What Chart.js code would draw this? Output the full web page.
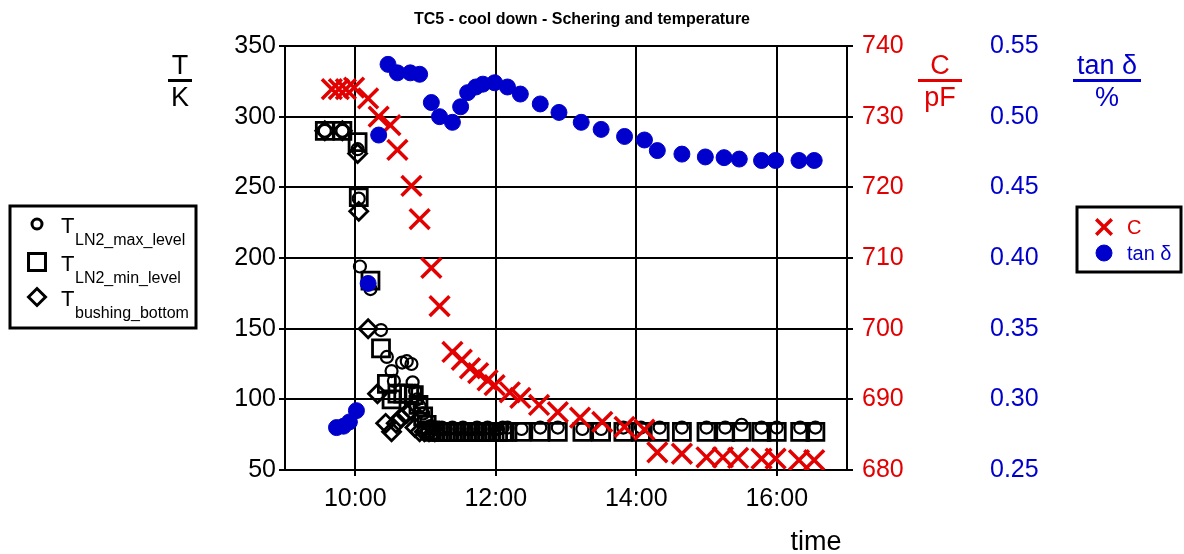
<!DOCTYPE html>
<html>
<head>
<meta charset="utf-8">
<script src="https://cdn.jsdelivr.net/npm/chart.js@4/dist/chart.umd.min.js"></script>
<style>
  body { margin: 0; background: #fff; }
  #wrap { width: 1184px; height: 554px; }
</style>
</head>
<body>
<div id="wrap"><canvas id="chart" width="1184" height="554"></canvas></div>
<script>
// temperatures (K)
const maxTimes = ['9:34','9:49','10:02','10:03','10:04','10:13','10:22','10:27','10:31','10:33','10:40','10:44','10:48','10:49','10:51','10:53','10:55','10:58','11:01','11:04',
  '11:08','11:11','11:14','11:17','11:20','11:23','11:26','11:29','11:32','11:35','11:38','11:41','11:44','11:47','11:50','11:53','11:56','11:59','12:02','12:06',
  '12:10','12:22','12:38','12:53','13:14','13:30','13:49','14:04','14:20','14:39','15:00','15:16','15:30','15:47','16:00','16:20','16:33'];
const maxValues = [290,290,277,242,194,178,149,130,120,113,126,127,125,112,106,100,95,90,85,81,
  80,79,80,79,79,80,79,79,80,79,79,79,80,79,79,80,79,79,79,80,
  80,79,80,80,79,79,80,80,80,80,80,80,82,80,80,80,80];

const minTimes = ['9:34','9:49','10:02','10:03','10:13','10:22','10:27','10:31','10:36','10:41','10:46','10:50','10:54','10:58','11:01','11:04',
  '11:08','11:11','11:14','11:17','11:20','11:23','11:26','11:29','11:32','11:35','11:38','11:41','11:44','11:47','11:50','11:53','11:56','11:59','12:02','12:06',
  '12:10','12:22','12:38','12:53','13:14','13:30','13:49','14:04','14:20','14:39','15:00','15:16','15:30','15:47','16:00','16:20','16:33'];
const minValues = [290,290,282,243,184,136,111,100,104,104,104,103,96,88,82,78,
  77,77,77,77,77,77,77,77,77,77,77,77,77,77,77,77,77,77,77,77,
  77,77,77,77,77,77,77,77,77,77,77,77,77,77,77,77,77];

const bushTimes = ['9:34','9:49','10:02','10:03','10:11','10:19','10:26','10:31','10:35','10:39','10:44','10:48','10:51','10:55','10:59','11:03','11:08'];
const bushValues = [290,290,274,233,150,104,83,77,83,87,90,92,80,77,77,77,77];

// Schering bridge: capacitance (pF) and tan delta (%)
const cTimes = ['9:40','9:46','9:52','9:59','10:11','10:20','10:30','10:36','10:48','10:55','11:05','11:12','11:23','11:31','11:38','11:45','11:53','11:59',
  '12:12','12:21','12:37','12:53','13:12','13:31','13:50','14:07','14:18','14:39','15:00','15:14','15:27','15:47','15:59','16:19','16:32'];
const cValues = [733.9,733.9,733.9,734.1,732.6,730.0,728.8,725.3,720.2,715.5,708.6,703.2,696.7,695.6,694.4,693.7,692.7,692.0,
  691.0,690.2,689.2,688.2,687.4,686.8,686.1,685.7,682.5,682.3,681.8,681.8,681.7,681.6,681.6,681.4,681.4];

const tanTimes = ['9:44','9:50','9:55','10:01','10:11','10:20','10:28','10:36','10:47','10:55','11:05','11:12','11:23','11:30','11:36','11:43','11:49','11:59',
  '12:10','12:21','12:38','12:54','13:13','13:30','13:50','14:07','14:18','14:39','14:59','15:15','15:28','15:47','15:59','16:19','16:32'];
const tanValues = [0.280,0.281,0.284,0.292,0.382,0.487,0.537,0.531,0.531,0.530,0.510,0.500,0.496,0.507,0.517,0.521,0.523,0.524,
  0.521,0.516,0.509,0.503,0.496,0.491,0.486,0.4835,0.476,0.4735,0.4715,0.471,0.470,0.469,0.469,0.469,0.469];

const xTicks = [600, 720, 840, 960];

const RED = 'rgb(226,0,0)';
const BLUE = 'rgb(0,0,205)';
const FONT = "'Liberation Sans', Arial, sans-serif";

function toMin(s) {
  const p = s.split(':');
  return +p[0] * 60 + +p[1];
}
function pts(times, vals) {
  return times.map((t, i) => ({ x: toMin(t), y: vals[i] }));
}
function hhmm(v) {
  const h = Math.floor(v / 60), m = v % 60;
  return h + ':' + String(m).padStart(2, '0');
}

function textAt(ctx, s, x, y, font, color, align) {
  ctx.font = font;
  ctx.fillStyle = color;
  ctx.textAlign = align || 'left';
  ctx.textBaseline = 'alphabetic';
  ctx.fillText(s, x, y);
}

function fraction(ctx, top, bottom, cx, color, lineW) {
  textAt(ctx, top, cx, 74, '27px ' + FONT, color, 'center');
  ctx.fillStyle = color;
  ctx.fillRect(cx - lineW / 2, 79, lineW, 3);
  textAt(ctx, bottom, cx, 106, '27px ' + FONT, color, 'center');
}

const decor = {
  id: 'decor',
  afterDraw(chart) {
    const ctx = chart.ctx;
    const dp = Chart.helpers.drawPoint;
    ctx.save();
    textAt(ctx, 'TC5 - cool down - Schering and temperature', 582, 24, 'bold 16px ' + FONT, '#000', 'center');

    fraction(ctx, 'T', 'K', 180, '#000', 24);
    fraction(ctx, 'C', 'pF', 940, RED, 44);
    fraction(ctx, 'tan \u03b4', '%', 1107, BLUE, 68);

    textAt(ctx, 'time', 816, 550, '27px ' + FONT, '#000', 'center');

    // left legend
    ctx.lineWidth = 3;
    ctx.strokeStyle = '#000';
    ctx.strokeRect(10, 206, 186, 122);
    const rows = [
      { y: 224, sub: 'LN2_max_level', style: 'circle', r: 5 },
      { y: 262, sub: 'LN2_min_level', style: 'rect', r: 12 },
      { y: 297, sub: 'bushing_bottom', style: 'rectRot', r: 8.5 }
    ];
    rows.forEach(r => {
      ctx.strokeStyle = '#000';
      ctx.fillStyle = 'rgba(0,0,0,0)';
      ctx.lineWidth = 3;
      dp(ctx, { pointStyle: r.style, radius: r.r, rotation: 0, borderWidth: 3 }, 37, r.y);
      textAt(ctx, 'T', 61, r.y + 9, '22px ' + FONT, '#000');
      textAt(ctx, r.sub, 75, r.y + 21, '16px ' + FONT, '#000');
    });

    // right legend
    ctx.lineWidth = 3;
    ctx.strokeStyle = '#000';
    ctx.strokeRect(1077, 207, 104, 65);
    ctx.strokeStyle = RED;
    ctx.lineWidth = 3.5;
    dp(ctx, { pointStyle: 'crossRot', radius: 11, rotation: 0, borderWidth: 3.5 }, 1104, 227);
    textAt(ctx, 'C', 1127, 234, '20px ' + FONT, RED);
    ctx.fillStyle = BLUE;
    ctx.strokeStyle = BLUE;
    ctx.lineWidth = 1;
    dp(ctx, { pointStyle: 'circle', radius: 8, rotation: 0, borderWidth: 1 }, 1104, 253);
    textAt(ctx, 'tan \u03b4', 1127, 260, '20px ' + FONT, BLUE);
    ctx.restore();
  }
};

const tickFont = { family: FONT, size: 25 };

new Chart(document.getElementById('chart'), {
  type: 'scatter',
  data: {
    datasets: [
      { label: 'tan d', data: pts(tanTimes, tanValues), yAxisID: 'yT', pointStyle: 'circle', pointRadius: 8,
        backgroundColor: BLUE, borderColor: BLUE, borderWidth: 1 },
      { label: 'C', data: pts(cTimes, cValues), yAxisID: 'yC', pointStyle: 'crossRot', pointRadius: 14,
        borderColor: RED, backgroundColor: RED, borderWidth: 3.5 },
      { label: 'T max', data: pts(maxTimes, maxValues), yAxisID: 'y', pointStyle: 'circle', pointRadius: 6,
        borderColor: '#000', backgroundColor: 'rgba(0,0,0,0)', borderWidth: 2.2 },
      { label: 'T min', data: pts(minTimes, minValues), yAxisID: 'y', pointStyle: 'rect', pointRadius: 12,
        borderColor: '#000', backgroundColor: 'rgba(0,0,0,0)', borderWidth: 2.8 },
      { label: 'T bushing', data: pts(bushTimes, bushValues), yAxisID: 'y', pointStyle: 'rectRot', pointRadius: 9,
        borderColor: '#000', backgroundColor: 'rgba(0,0,0,0)', borderWidth: 2.8 }
    ]
  },
  options: {
    responsive: false,
    animation: false,
    devicePixelRatio: 1,
    events: [],
    layout: { padding: { left: 225, right: 94, top: 46, bottom: 44 } },
    plugins: { legend: { display: false }, tooltip: { enabled: false } },
    scales: {
      x: {
        type: 'linear', min: 540, max: 1020,
        afterBuildTicks: s => { s.ticks = xTicks.map(v => ({ value: v })); },
        afterFit: s => { s.height = 40; },
        grid: { color: '#000', lineWidth: 2, tickLength: 6 },
        border: { color: '#000', width: 2 },
        ticks: { color: '#000', font: tickFont, padding: 8, maxRotation: 0, callback: v => hhmm(v) }
      },
      y: {
        position: 'left', min: 50, max: 350,
        afterFit: s => { s.width = 60; },
        grid: { color: '#000', lineWidth: 2, tickLength: 6 },
        border: { color: '#000', width: 2 },
        ticks: { color: '#000', font: tickFont, stepSize: 50, padding: 3 }
      },
      yC: {
        position: 'right', min: 680, max: 740,
        afterFit: s => { s.width = 143; },
        grid: { drawOnChartArea: false, color: '#000', lineWidth: 2, tickLength: 6 },
        border: { color: '#000', width: 2 },
        ticks: { color: RED, font: tickFont, stepSize: 10, padding: 9 }
      },
      yT: {
        position: 'right', min: 0.25, max: 0.55,
        afterFit: s => { s.width = 100; },
        grid: { display: false, drawTicks: false },
        border: { display: false },
        ticks: { color: BLUE, font: tickFont, stepSize: 0.05, padding: 0, callback: v => v.toFixed(2) }
      }
    }
  },
  plugins: [decor]
});
</script>
</body>
</html>
